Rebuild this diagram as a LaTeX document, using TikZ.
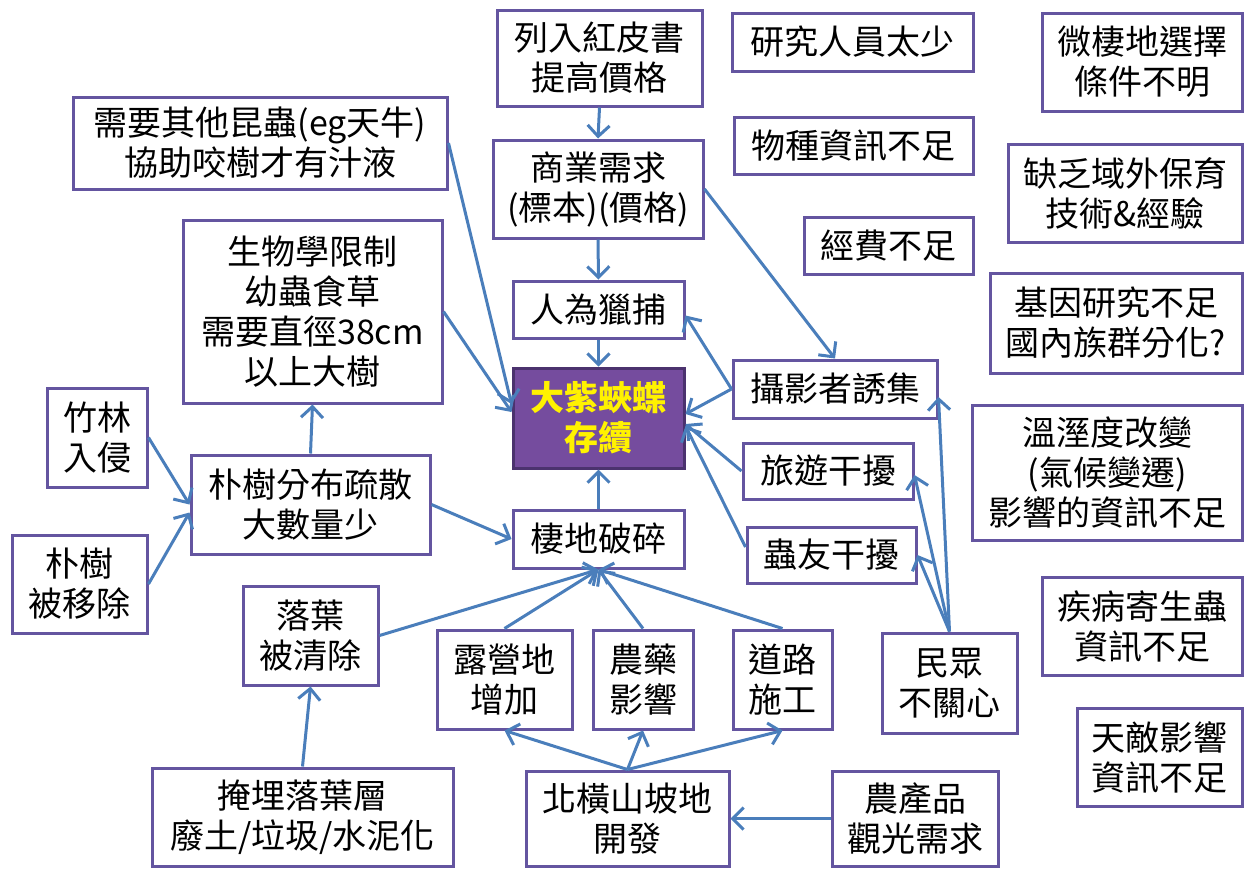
\documentclass[tikz,border=0pt]{standalone}
\usepackage{fontspec}
\setmainfont{Noto Sans CJK TC}
\usetikzlibrary{arrows.meta,calc}
\definecolor{boxc}{RGB}{100,85,160}
\definecolor{arrc}{RGB}{74,126,187}
\definecolor{mainfill}{RGB}{117,76,158}
\definecolor{mainline}{RGB}{75,50,110}
\begin{document}
\begin{tikzpicture}[x=0.5pt,y=-0.5pt,
  box/.style={draw=boxc,line width=1.5pt,fill=white,inner sep=0pt,align=center,anchor=center,font=\fontsize{17}{20}\selectfont},
  bx/.style n args={4}{minimum width={(#3-#1)*0.5pt},minimum height={(#4-#2)*0.5pt},at={({(#1+#3)/2},{(#2+#4)/2})}},
  mainbox/.style={box,draw=mainline,fill=mainfill,text=yellow,font=\fontsize{17}{20}\selectfont\bfseries},
  arr/.style={draw=arrc,line width=1.5pt,-{Straight Barb[length=5.5pt,width=11pt]}},
  ]
\useasboundingbox (0,0) rectangle (1247,869);
% nodes
\node[box,bx={497}{10}{702}{106}] (red) {列入紅皮書\\提高價格};
\node[box,bx={732}{13}{973}{71}] (res) {研究人員太少};
\node[box,bx={1042}{13}{1242}{111}] (micro) {微棲地選擇\\條件不明};
\node[box,bx={73}{97}{447}{189}] (insect) {需要其他昆蟲(eg天牛)\\協助咬樹才有汁液};
\node[box,bx={493}{140}{703}{238}] (comm) {商業需求\\(標本)(價格)};
\node[box,bx={734}{117}{973}{174}] (spec) {物種資訊不足};
\node[box,bx={1008}{144}{1242}{242}] (exsitu) {缺乏域外保育\\技術\&經驗};
\node[box,bx={183}{220}{442}{403}] (bio) {生物學限制\\幼蟲食草\\需要直徑38cm\\以上大樹};
\node[box,bx={804}{217}{973}{274}] (fund) {經費不足};
\node[box,bx={990}{273}{1242}{373}] (gene) {基因研究不足\\國內族群分化?};
\node[box,bx={513}{281}{684}{338}] (hunt) {人為獵捕};
\node[mainbox,bx={513}{368}{684}{468}] (main) {大紫蛺蝶\\存續};
\node[box,bx={733}{360}{937}{418}] (photo) {攝影者誘集};
\node[box,bx={47}{388}{147}{487}] (bamboo) {竹林\\入侵};
\node[box,bx={972}{405}{1242}{540}] (climate) {溫溼度改變\\(氣候變遷)\\影響的資訊不足};
\node[box,bx={743}{443}{913}{499}] (tour) {旅遊干擾};
\node[box,bx={191}{455}{430}{554}] (celtis) {朴樹分布疏散\\大數量少};
\node[box,bx={513}{510}{684}{568}] (habitat) {棲地破碎};
\node[box,bx={747}{527}{916}{583}] (fans) {蟲友干擾};
\node[box,bx={12}{535}{147}{633}] (removed) {朴樹\\被移除};
\node[box,bx={243}{586}{378}{685}] (leaf) {落葉\\被清除};
\node[box,bx={437}{630}{572}{729}] (camp) {露營地\\增加};
\node[box,bx={593}{630}{693}{729}] (pest) {農藥\\影響};
\node[box,bx={733}{630}{832}{729}] (road) {道路\\施工};
\node[box,bx={882}{633}{1017}{733}] (public) {民眾\\不關心};
\node[box,bx={1042}{577}{1242}{675}] (disease) {疾病寄生蟲\\資訊不足};
\node[box,bx={1077}{708}{1242}{806}] (enemy) {天敵影響\\資訊不足};
\node[box,bx={152}{768}{453}{866}] (bury) {掩埋落葉層\\廢土/垃圾/水泥化};
\node[box,bx={526}{771}{729}{866}] (north) {北橫山坡地\\開發};
\node[box,bx={832}{771}{998}{866}] (agri) {農產品\\觀光需求};
% connectors
\draw[arr] (red.south) -- (comm.north);
\draw[arr] (comm.south) -- (hunt.north);
\draw[arr] (hunt.south) -- (main.north);
\draw[arr] (habitat.north) -- (main.south);
\draw[arr] (comm.east) -- (photo.north);
\draw[arr] (insect.east) -- ([yshift=7pt]main.west);
\draw[arr] (bio.east) -- ([yshift=3pt]main.west);
\draw[arr] (photo.west) -- ([yshift=-3pt]hunt.east);
\draw[arr] (photo.west) -- ([yshift=2pt]main.east);
\draw[arr] (tour.west) -- ([yshift=-3pt]main.east);
\draw[arr] ([yshift=4pt]fans.west) -- ([yshift=-4pt]main.east);
\draw[arr] (public.north) -- ([yshift=-4pt]photo.east);
\draw[arr] (public.north) -- ([yshift=-2pt]tour.east);
\draw[arr] (public.north) -- (fans.east);
\draw[arr] (bamboo.east) -- (celtis.west);
\draw[arr] (removed.east) -- ([yshift=-4pt]celtis.west);
\draw[arr] (celtis.north) -- (bio.south);
\draw[arr] (celtis.east) -- (habitat.west);
\draw[arr] (leaf.east) -- (habitat.south);
\draw[arr] (camp.north) -- (habitat.south);
\draw[arr] (pest.north) -- (habitat.south);
\draw[arr] (road.north) -- (habitat.south);
\draw[arr] (north.north) -- (camp.south);
\draw[arr] (north.north) -- (pest.south);
\draw[arr] (north.north) -- (road.south);
\draw[arr] (agri.west) -- (north.east);
\draw[arr] (bury.north) -- (leaf.south);
\end{tikzpicture}
\end{document}
